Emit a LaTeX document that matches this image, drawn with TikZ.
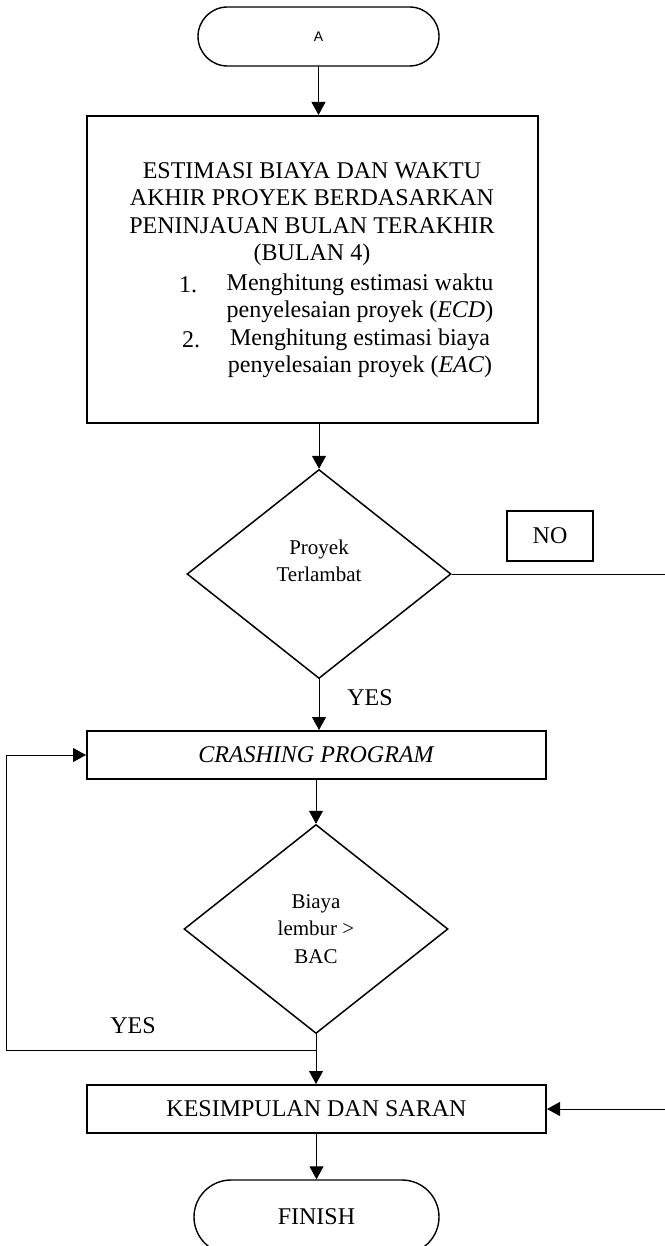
\documentclass[tikz,border=0pt]{standalone}
\usepackage{fontspec}
\setmainfont{Liberation Serif}
\newfontfamily\sansA{Liberation Sans}
\usepackage{tikz}
\usetikzlibrary{positioning,arrows.meta,shapes.geometric,shapes.misc}
\newcommand{\besar}{\fontsize{24}{27.5}\selectfont}
\newcommand{\kecil}{\fontsize{21}{27.5}\selectfont}

\begin{document}
\begin{tikzpicture}[x=1pt, y=-1pt, font=\besar,
  terminal/.style={draw, line width=1.4pt, rounded rectangle, minimum width=241pt, minimum height=59pt, inner sep=0pt},
  proses/.style={draw, line width=2pt, inner sep=0pt},
  keputusan/.style={draw, diamond, line width=1.5pt, minimum width=264pt, minimum height=209pt, inner sep=0pt},
  panah/.style={line width=0.9pt, -{Triangle[length=13pt,width=14pt]}},
  garis/.style={line width=0.9pt}]
  \useasboundingbox (0,0) rectangle (664,1246);
  % blok atas
  \node[terminal, font=\sansA\fontsize{14}{16}\selectfont] (mulai) at (318.5,36.5) {A};
  \node[proses, minimum width=451pt, minimum height=307pt] (estimasi) at (312.5,269.5) {};
  \node[align=center] (judul) at (312,214) {ESTIMASI BIAYA DAN WAKTU\\AKHIR PROYEK BERDASARKAN\\PENINJAUAN BULAN TERAKHIR\\(BULAN 4)};
  \node[align=center] (daftar) at (360,326) {Menghitung estimasi waktu\\penyelesaian proyek (\textit{ECD})\\Menghitung estimasi biaya\\penyelesaian proyek (\textit{EAC})};
  \node (no1) at (188,285) {1.};
  \node (no2) at (191,340) {2.};
  % keputusan 1
  \node[keputusan] (terlambat) at (319,574) {};
  \node[font=\kecil, align=center] (terlambat-teks) at (319,561) {Proyek\\Terlambat};
  \node[draw, line width=1.1pt, minimum width=86pt, minimum height=50pt, inner sep=0pt] (tidak) at (550,536) {NO};
  \node (ya1) at (370,698) {YES};
  \node[proses, minimum width=459pt, minimum height=48pt] (crashing) at (316.5,755) {\textit{CRASHING PROGRAM}};
  % keputusan 2
  \node[keputusan, font=\kecil, align=center] (biaya) at (316,929) {Biaya\\lembur >\\BAC};
  \node (ya2) at (133,1026) {YES};
  \node[proses, minimum width=459pt, minimum height=48pt] (kesimpulan) at (316.5,1109) {KESIMPULAN DAN SARAN};
  \node[terminal, minimum width=245pt, minimum height=74pt] (selesai) at (316.5,1217) {FINISH};
  \coordinate (kanan) at (672,574);
  \coordinate (kiri) at (6,1050);
  % panah
  \draw[panah] (mulai) -- (estimasi.north -| mulai);
  \draw[panah] (estimasi.south -| terlambat) -- (terlambat.north);
  \draw[panah] (terlambat.south) -- (crashing.north -| terlambat.south);
  \draw[panah] (crashing.south -| biaya) -- (biaya.north);
  \draw[panah] (biaya.south) -- (kesimpulan.north -| biaya.south);
  \draw[panah] (kesimpulan.south -| selesai) -- (selesai.north);
  \draw[panah] (terlambat.east) -- (kanan) |- (kesimpulan.east);
  \draw[panah] (biaya.south |- kiri) -- (kiri) |- (crashing.west);
\end{tikzpicture}
\end{document}
